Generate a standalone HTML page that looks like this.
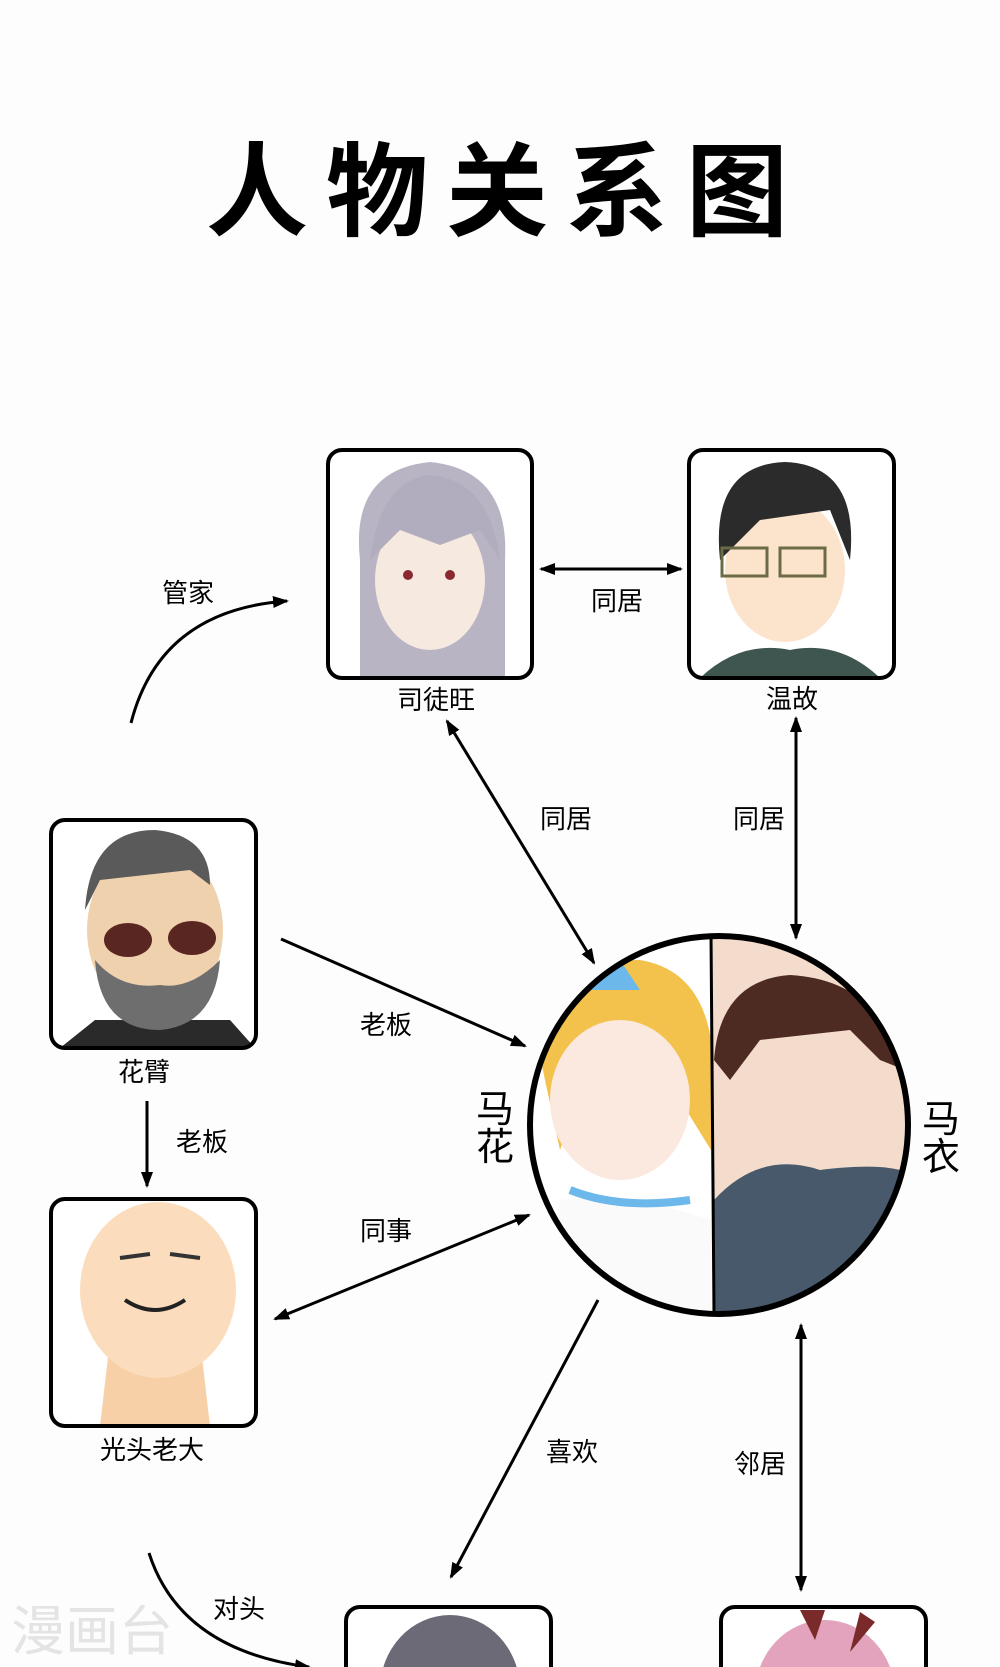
<!DOCTYPE html>
<html><head><meta charset="utf-8"><style>
html,body{margin:0;padding:0;background:#fff;width:1000px;height:1667px;overflow:hidden;}
svg{display:block}
text{font-family:"Liberation Sans","Noto Sans CJK SC",sans-serif;}
</style></head><body>
<svg width="1000" height="1667" viewBox="0 0 1000 1667" xmlns="http://www.w3.org/2000/svg">
<defs>
<marker id="b" markerWidth="16" markerHeight="16" refX="14" refY="8" orient="auto-start-reverse" markerUnits="userSpaceOnUse" viewBox="0 0 16 16"><path d="M0,2 L16,8 L0,14 z" fill="#000"/></marker>
<clipPath id="c"><circle cx="719" cy="1125" r="189"/></clipPath>
<clipPath id="b1"><rect x="328" y="450" width="204" height="228" rx="14"/></clipPath>
<clipPath id="b2"><rect x="689" y="450" width="205" height="228" rx="14"/></clipPath>
<clipPath id="b3"><rect x="51" y="820" width="205" height="228" rx="14"/></clipPath>
<clipPath id="b4"><rect x="51" y="1199" width="205" height="227" rx="14"/></clipPath>
<clipPath id="b5"><rect x="346" y="1607" width="205" height="100" rx="14"/></clipPath>
<clipPath id="b6"><rect x="721" y="1607" width="205" height="100" rx="14"/></clipPath>
</defs>
<rect width="1000" height="1667" fill="#fdfdfe"/>
<text x="506" y="228" font-size="102" font-weight="bold" text-anchor="middle" letter-spacing="18" font-family="'Noto Sans CJK SC',sans-serif">人物关系图</text>

<g clip-path="url(#b1)"><rect x="328" y="450" width="204" height="228" fill="#fff"/>
<path d="M360,678 L360,560 Q350,470 430,462 Q510,470 505,560 L505,678 Z" fill="#b9b4c4"/>
<ellipse cx="430" cy="580" rx="55" ry="70" fill="#f6e9e0"/>
<path d="M370,560 Q380,480 430,475 Q490,480 500,560 L480,530 L440,545 L400,530 Z" fill="#b2adbe"/>
<circle cx="408" cy="575" r="5" fill="#8a2a30"/><circle cx="450" cy="575" r="5" fill="#8a2a30"/></g>
<rect x="328" y="450" width="204" height="228" rx="14" fill="none" stroke="#000" stroke-width="4"/>
<text x="436" y="709" font-size="26" text-anchor="middle">司徒旺</text>

<g clip-path="url(#b2)"><rect x="689" y="450" width="205" height="228" fill="#fff"/>
<path d="M700,678 Q740,640 790,650 Q840,640 880,678 Z" fill="#3e5550"/>
<ellipse cx="785" cy="570" rx="60" ry="72" fill="#fbe3cc"/>
<path d="M720,560 Q710,465 785,462 Q860,465 850,560 L830,510 L760,520 Z" fill="#2b2b2b"/>
<rect x="722" y="548" width="45" height="28" fill="none" stroke="#6b6b45" stroke-width="3"/><rect x="780" y="548" width="45" height="28" fill="none" stroke="#6b6b45" stroke-width="3"/></g>
<rect x="689" y="450" width="205" height="228" rx="14" fill="none" stroke="#000" stroke-width="4"/>
<text x="792" y="708" font-size="26" text-anchor="middle">温故</text>

<g clip-path="url(#b3)"><rect x="51" y="820" width="205" height="228" fill="#fff"/>
<path d="M60,1048 L95,1020 L230,1020 L255,1048 Z" fill="#2a2a2a"/>
<ellipse cx="155" cy="930" rx="68" ry="85" fill="#efd1ae"/>
<path d="M85,910 Q90,830 155,830 Q210,835 210,885 L190,870 L100,880 Z" fill="#5a5a5a"/>
<path d="M95,960 Q100,1030 160,1030 Q215,1025 220,960 Q190,990 160,985 Q120,990 95,960 Z" fill="#6e6e6e"/>
<ellipse cx="128" cy="940" rx="24" ry="17" fill="#5a2622"/><ellipse cx="192" cy="938" rx="24" ry="17" fill="#5a2622"/></g>
<rect x="51" y="820" width="205" height="228" rx="14" fill="none" stroke="#000" stroke-width="4"/>
<text x="144" y="1081" font-size="26" text-anchor="middle">花臂</text>

<g clip-path="url(#b4)"><rect x="51" y="1199" width="205" height="227" fill="#fff"/>
<path d="M100,1426 L110,1340 L200,1340 L210,1426 Z" fill="#f7d0a8"/>
<ellipse cx="158" cy="1290" rx="78" ry="88" fill="#fbdcbc"/>
<path d="M120,1258 l30,-4 M170,1254 l30,4" stroke="#333" stroke-width="4"/>
<path d="M125,1300 q30,20 60,0" stroke="#222" stroke-width="4" fill="none"/></g>
<rect x="51" y="1199" width="205" height="227" rx="14" fill="none" stroke="#000" stroke-width="4"/>
<text x="152" y="1459" font-size="26" text-anchor="middle">光头老大</text>

<g clip-path="url(#b5)"><rect x="346" y="1607" width="205" height="100" fill="#fff"/><ellipse cx="450" cy="1690" rx="70" ry="75" fill="#6d6a78"/></g>
<rect x="346" y="1607" width="205" height="100" rx="14" fill="none" stroke="#000" stroke-width="4"/>
<g clip-path="url(#b6)"><rect x="721" y="1607" width="205" height="100" fill="#fff"/><ellipse cx="825" cy="1695" rx="70" ry="75" fill="#e3a3bd"/><path d="M800,1610 l15,30 l10,-30 z M860,1612 l-10,40 l25,-30 z" fill="#7a2a2a"/></g>
<rect x="721" y="1607" width="205" height="100" rx="14" fill="none" stroke="#000" stroke-width="4"/>

<g clip-path="url(#c)">
<rect x="520" y="930" width="400" height="400" fill="#fff"/>
<polygon points="711,930 920,930 920,1330 714,1330" fill="#f4dccc"/>
<path d="M714,1200 Q760,1150 820,1170 Q900,1160 920,1180 L920,1330 L714,1330 Z" fill="#48596b"/>
<path d="M714,1060 Q720,980 790,975 Q880,980 905,1070 L880,1060 L850,1030 L760,1040 L730,1080 Z" fill="#4e2b22"/>
<path d="M530,1010 Q560,960 640,960 Q700,970 711,1040 L711,1150 L680,1100 L600,1040 L560,1150 Z" fill="#f3c24d"/>
<ellipse cx="620" cy="1100" rx="70" ry="80" fill="#fbe8de"/>
<path d="M560,1000 Q600,980 650,990 L700,1030 L660,1010 Q600,1000 560,1010 Z" fill="#f3c24d"/>
<path d="M590,990 l30,-30 l20,30 z" fill="#6cb8ea"/>
<path d="M560,1200 Q620,1190 711,1220 L711,1330 L540,1330 Z" fill="#fafafa"/>
<path d="M570,1190 Q620,1210 690,1200" stroke="#6cb8ea" stroke-width="8" fill="none"/>
</g>
<line x1="711" y1="934" x2="714" y2="1314" stroke="#000" stroke-width="3"/>
<circle cx="719" cy="1125" r="189" fill="none" stroke="#000" stroke-width="6"/>
<text font-size="38" text-anchor="middle"><tspan x="495" y="1122">马</tspan><tspan x="495" y="1160">花</tspan></text>
<text font-size="38" text-anchor="middle"><tspan x="941" y="1132">马</tspan><tspan x="941" y="1170">衣</tspan></text>

<g stroke="#000" stroke-width="3" fill="none">
<line x1="541" y1="569" x2="681" y2="569" marker-start="url(#b)" marker-end="url(#b)"/>
<path d="M131,723 Q160,610 287,601" marker-end="url(#b)"/>
<line x1="447" y1="721" x2="594" y2="963" marker-start="url(#b)" marker-end="url(#b)"/>
<line x1="796" y1="718" x2="796" y2="938" marker-start="url(#b)" marker-end="url(#b)"/>
<line x1="281" y1="939" x2="525" y2="1046" marker-end="url(#b)"/>
<line x1="147" y1="1101" x2="147" y2="1186" marker-end="url(#b)"/>
<line x1="275" y1="1319" x2="529" y2="1215" marker-start="url(#b)" marker-end="url(#b)"/>
<line x1="598" y1="1300" x2="451" y2="1577" marker-end="url(#b)"/>
<line x1="801" y1="1325" x2="801" y2="1590" marker-start="url(#b)" marker-end="url(#b)"/>
<path d="M149,1553 Q180,1650 309,1667" marker-end="url(#b)"/>
</g>
<g font-size="26" text-anchor="middle">
<text x="617" y="610">同居</text>
<text x="188" y="602">管家</text>
<text x="566" y="828">同居</text>
<text x="759" y="828">同居</text>
<text x="386" y="1034">老板</text>
<text x="202" y="1151">老板</text>
<text x="386" y="1240">同事</text>
<text x="572" y="1461">喜欢</text>
<text x="760" y="1473">邻居</text>
<text x="239" y="1618">对头</text>
</g>
<text x="11" y="1650" font-size="54" fill="#e4e4e4">漫画台</text>
</svg>
</body></html>
